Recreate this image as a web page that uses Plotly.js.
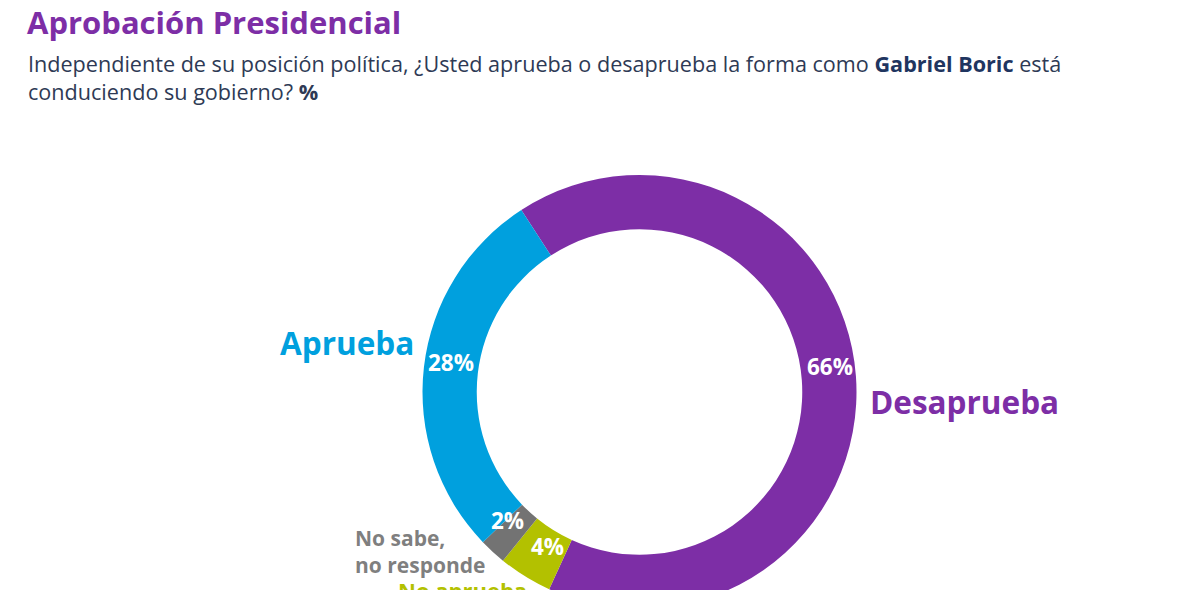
<!DOCTYPE html>
<html><head><meta charset="utf-8">
<script src="https://cdn.plot.ly/plotly-3.0.1.min.js"></script>
<style>html,body{margin:0;padding:0;overflow:hidden;background:#fff}#chart{width:1200px;height:640px}</style>
</head><body><div id="chart"></div>
<script>
const categories = ["Desaprueba", "No aprueba ni desaprueba", "No sabe, no responde", "Aprueba"];
const values = [66, 4, 2, 28];
const colors = ["#7D2EA6", "#B3C100", "#737373", "#00A0DE"];

const W = 1200, H = 640;
const px = x => x / W;
const py = y => 1 - y / H;
const FONT = "Open Sans";

const trace = {
  type: "pie",
  labels: categories,
  values: values,
  sort: false,
  direction: "clockwise",
  rotation: -33,
  hole: 0.75,
  marker: {colors: colors, line: {width: 0}},
  textinfo: "none",
  hoverinfo: "label+value",
  showlegend: false,
  domain: {x: [px(422.5), px(856.5)], y: [py(609), py(175)]}
};

function ann(text, x, y, color, size, bold, xanchor, align) {
  return {text: text, x: px(x), y: py(y), xref: "paper", yref: "paper",
    xanchor: xanchor || "left", yanchor: "middle", align: align || "left", showarrow: false,
    font: {family: FONT, size: size, color: color, weight: bold ? 700 : 400}};
}

// percentage labels placed on the ring (text from the data)
const pctPos = [[830, 366], [547, 546], [507, 520], [451, 362]];
const pctAnns = values.map((v, i) =>
  ann(v + "%", pctPos[i][0], pctPos[i][1], "#ffffff", 22.5, true, "center", "center"));

const layout = {
  width: W, height: H,
  margin: {l: 0, r: 0, t: 0, b: 0},
  paper_bgcolor: "#ffffff",
  annotations: [
    ann("Aprobación Presidencial", 25, 22, "#7D2EA6", 31, true),
    ann("Independiente de su posición política, ¿Usted aprueba o desaprueba la forma como <b style='color:#1F3560'>Gabriel Boric</b> está<br>conduciendo su gobierno? <b>%</b>", 26, 78, "#2E3A55", 21.6, false),
    ann("Aprueba", 416, 342, "#00A0DE", 31.5, true, "right", "right"),
    ann("Desaprueba", 868, 401, "#7D2EA6", 31.5, true),
    ann("No sabe,<br>no responde", 353, 551, "#7F7F7F", 21, true),
    ann("No aprueba", 396, 590, "#B3C100", 22, true)
  ].concat(pctAnns)
};

Plotly.newPlot("chart", [trace], layout, {displayModeBar: false, staticPlot: true});
</script></body></html>
